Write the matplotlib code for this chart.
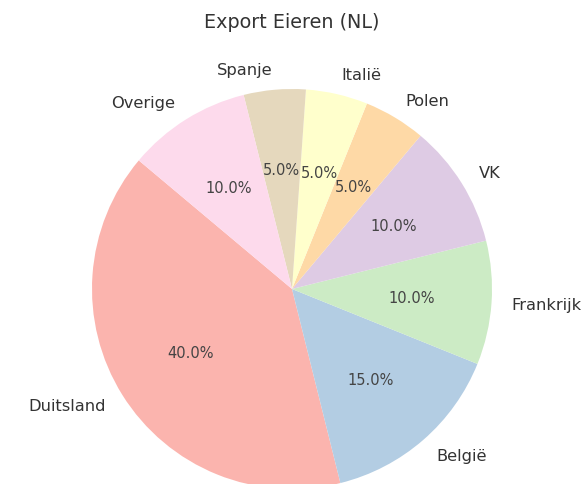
import matplotlib
matplotlib.use('Agg')
import matplotlib.pyplot as plt

# Egg export share per destination country
landen = ['Duitsland', 'België', 'Frankrijk', 'VK', 'Polen', 'Italië', 'Spanje', 'Overige']
aandeel = [40, 15, 10, 10, 5, 5, 5, 10]

kleuren = plt.cm.Pastel1.colors[:len(landen)]

fig = plt.figure(figsize=(5.84, 4.85), dpi=100)
ax = fig.add_axes([92 / 584, -5 / 485, 400 / 584, 400 / 485])

wedges, texts, autotexts = ax.pie(aandeel, labels=landen, colors=kleuren,
                                  autopct='%1.1f%%', startangle=140,
                                  textprops={'fontsize': 11.7, 'color': '#333333'})
for t in autotexts:
    t.set_fontsize(10.5)
    t.set_color('#444444')
ax.set_xlim(-1, 1)
ax.set_ylim(-1, 1)
ax.set_aspect('equal')

fig.text(0.5, 1 - 22 / 485, 'Export Eieren (NL)', ha='center', va='center',
         fontsize=13.8, color='#333333')

fig.savefig('out.png', dpi=100)
